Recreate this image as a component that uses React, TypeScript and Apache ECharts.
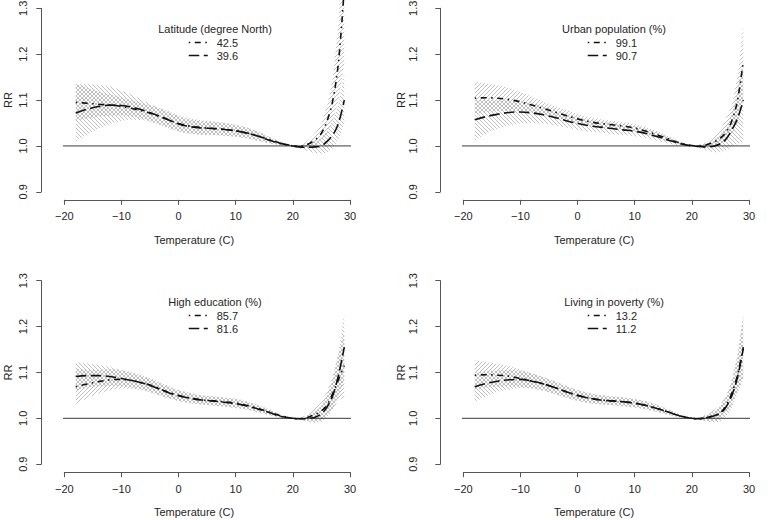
import React, { useEffect, useRef } from 'react';
import * as echarts from 'echarts';

// ---------------- data ----------------
const TEMPS = [-18, -16, -14, -12, -10, -8, -6, -4, -2, 0, 2, 4, 6, 8, 10, 12, 14, 16, 18, 20, 21, 22, 23, 24, 25, 26, 27, 28, 29];
const X_MIN = -20;
const X_MAX = 30;
const X_STEP = 10;
const Y_MIN = 0.9;
const Y_MAX = 1.3;
const Y_STEP = 0.1;
const REF_X = [-24, 35.4];
const REF_Y = 1.0;
const X_TITLE = 'Temperature (C)';
const Y_TITLE = 'RR';

// Panel 1: Latitude
const LAT_TITLE = 'Latitude (degree North)';
const LAT_NAMES = ['42.5', '39.6'];
const LAT_FIT_A = [1.095, 1.093, 1.091, 1.089, 1.086, 1.081, 1.075, 1.067, 1.058, 1.049, 1.043, 1.040, 1.038, 1.036, 1.033, 1.028, 1.021, 1.013, 1.005, 1.000, 0.999, 1.001, 1.006, 1.014, 1.028, 1.055, 1.100, 1.185, 1.345];
const LAT_FIT_B = [1.072, 1.080, 1.086, 1.089, 1.088, 1.084, 1.077, 1.068, 1.058, 1.048, 1.042, 1.039, 1.038, 1.036, 1.033, 1.028, 1.021, 1.012, 1.005, 1.000, 0.998, 0.997, 0.997, 0.998, 1.000, 1.010, 1.024, 1.050, 1.100];
const LAT_LOW_A = [1.055, 1.060, 1.064, 1.066, 1.067, 1.064, 1.058, 1.049, 1.039, 1.031, 1.026, 1.024, 1.023, 1.022, 1.020, 1.016, 1.011, 1.006, 1.002, 0.999, 0.997, 0.995, 0.996, 1.000, 1.008, 1.025, 1.055, 1.100, 1.180];
const LAT_UPP_A = [1.135, 1.126, 1.118, 1.112, 1.106, 1.099, 1.092, 1.086, 1.077, 1.067, 1.060, 1.056, 1.054, 1.051, 1.046, 1.040, 1.031, 1.020, 1.008, 1.001, 1.001, 1.006, 1.016, 1.030, 1.050, 1.088, 1.150, 1.270, 1.520];
const LAT_LOW_B = [1.010, 1.025, 1.038, 1.048, 1.055, 1.057, 1.056, 1.050, 1.041, 1.032, 1.027, 1.025, 1.024, 1.022, 1.020, 1.016, 1.011, 1.005, 1.001, 0.999, 0.995, 0.991, 0.987, 0.984, 0.983, 0.986, 0.995, 1.015, 1.050];
const LAT_UPP_B = [1.135, 1.135, 1.133, 1.130, 1.121, 1.111, 1.098, 1.086, 1.075, 1.064, 1.057, 1.053, 1.052, 1.050, 1.046, 1.040, 1.031, 1.019, 1.009, 1.001, 1.001, 1.003, 1.007, 1.012, 1.018, 1.034, 1.056, 1.092, 1.160];

// Panel 2: Urban population
const URB_TITLE = 'Urban population (%)';
const URB_NAMES = ['99.1', '90.7'];
const URB_FIT_A = [1.104, 1.105, 1.104, 1.101, 1.096, 1.089, 1.082, 1.074, 1.066, 1.059, 1.053, 1.049, 1.046, 1.043, 1.039, 1.032, 1.024, 1.015, 1.006, 1.001, 1.000, 1.001, 1.004, 1.009, 1.017, 1.030, 1.055, 1.100, 1.185];
const URB_FIT_B = [1.057, 1.064, 1.069, 1.073, 1.074, 1.072, 1.068, 1.062, 1.055, 1.049, 1.044, 1.041, 1.038, 1.035, 1.032, 1.027, 1.020, 1.012, 1.005, 1.000, 0.999, 0.998, 0.998, 1.000, 1.005, 1.015, 1.035, 1.060, 1.100];
const URB_LOW_A = [1.070, 1.074, 1.076, 1.077, 1.076, 1.073, 1.068, 1.062, 1.055, 1.048, 1.043, 1.040, 1.037, 1.034, 1.030, 1.024, 1.017, 1.010, 1.003, 0.999, 0.998, 0.997, 0.997, 0.999, 1.003, 1.010, 1.025, 1.050, 1.100];
const URB_UPP_A = [1.140, 1.136, 1.132, 1.126, 1.118, 1.107, 1.097, 1.087, 1.078, 1.070, 1.063, 1.058, 1.055, 1.052, 1.048, 1.041, 1.032, 1.021, 1.009, 1.002, 1.002, 1.005, 1.011, 1.020, 1.035, 1.060, 1.090, 1.150, 1.265];
const URB_LOW_B = [1.012, 1.027, 1.038, 1.045, 1.049, 1.050, 1.049, 1.045, 1.040, 1.035, 1.031, 1.029, 1.026, 1.024, 1.021, 1.017, 1.011, 1.005, 1.001, 0.999, 0.996, 0.992, 0.988, 0.986, 0.986, 0.990, 0.998, 1.005, 1.010];
const URB_UPP_B = [1.100, 1.100, 1.099, 1.099, 1.098, 1.094, 1.087, 1.079, 1.070, 1.063, 1.057, 1.053, 1.050, 1.047, 1.043, 1.037, 1.029, 1.019, 1.009, 1.001, 1.002, 1.004, 1.008, 1.014, 1.024, 1.040, 1.070, 1.120, 1.190];

// Panel 3: High education
const EDU_TITLE = 'High education (%)';
const EDU_NAMES = ['85.7', '81.6'];
const EDU_FIT_A = [1.069, 1.075, 1.080, 1.084, 1.085, 1.082, 1.076, 1.068, 1.058, 1.050, 1.044, 1.040, 1.038, 1.036, 1.033, 1.028, 1.021, 1.013, 1.005, 1.000, 0.999, 1.000, 1.004, 1.009, 1.016, 1.030, 1.055, 1.085, 1.115];
const EDU_FIT_B = [1.091, 1.093, 1.093, 1.091, 1.087, 1.082, 1.076, 1.067, 1.057, 1.049, 1.044, 1.040, 1.038, 1.035, 1.032, 1.027, 1.020, 1.012, 1.004, 1.000, 0.999, 0.999, 1.000, 1.003, 1.010, 1.025, 1.050, 1.095, 1.155];
const EDU_LOW_A = [1.032, 1.044, 1.054, 1.061, 1.065, 1.064, 1.060, 1.053, 1.045, 1.038, 1.033, 1.030, 1.028, 1.026, 1.023, 1.019, 1.013, 1.007, 1.002, 0.999, 0.997, 0.995, 0.993, 0.993, 0.996, 1.005, 1.020, 1.040, 1.045];
const EDU_UPP_A = [1.107, 1.106, 1.106, 1.107, 1.106, 1.100, 1.092, 1.083, 1.072, 1.062, 1.055, 1.050, 1.048, 1.046, 1.043, 1.037, 1.029, 1.019, 1.008, 1.001, 1.001, 1.005, 1.014, 1.025, 1.037, 1.060, 1.095, 1.140, 1.190];
const EDU_LOW_B = [1.060, 1.067, 1.070, 1.071, 1.070, 1.067, 1.061, 1.053, 1.044, 1.037, 1.033, 1.030, 1.028, 1.025, 1.022, 1.018, 1.012, 1.006, 1.001, 0.999, 0.997, 0.994, 0.991, 0.990, 0.992, 1.002, 1.020, 1.050, 1.085];
const EDU_UPP_B = [1.122, 1.120, 1.117, 1.112, 1.105, 1.098, 1.090, 1.081, 1.070, 1.061, 1.055, 1.050, 1.048, 1.045, 1.042, 1.036, 1.028, 1.018, 1.007, 1.001, 1.001, 1.004, 1.009, 1.016, 1.028, 1.050, 1.085, 1.145, 1.230];

// Panel 4: Living in poverty
const POV_TITLE = 'Living in poverty (%)';
const POV_NAMES = ['13.2', '11.2'];
const POV_FIT_A = [1.094, 1.095, 1.094, 1.092, 1.087, 1.081, 1.075, 1.067, 1.058, 1.050, 1.044, 1.040, 1.038, 1.036, 1.033, 1.028, 1.021, 1.013, 1.005, 1.000, 0.999, 1.000, 1.003, 1.007, 1.012, 1.028, 1.055, 1.095, 1.155];
const POV_FIT_B = [1.069, 1.076, 1.081, 1.084, 1.085, 1.081, 1.075, 1.067, 1.058, 1.050, 1.044, 1.040, 1.038, 1.036, 1.033, 1.028, 1.021, 1.013, 1.005, 1.000, 0.999, 1.000, 1.002, 1.006, 1.011, 1.025, 1.050, 1.090, 1.152];
const POV_LOW_A = [1.062, 1.067, 1.069, 1.070, 1.069, 1.065, 1.060, 1.053, 1.045, 1.038, 1.033, 1.030, 1.029, 1.027, 1.024, 1.019, 1.013, 1.007, 1.002, 0.999, 0.997, 0.995, 0.993, 0.994, 0.998, 1.010, 1.030, 1.060, 1.090];
const POV_UPP_A = [1.126, 1.123, 1.119, 1.114, 1.106, 1.098, 1.090, 1.081, 1.071, 1.062, 1.055, 1.051, 1.048, 1.046, 1.042, 1.037, 1.029, 1.019, 1.008, 1.001, 1.001, 1.005, 1.012, 1.020, 1.030, 1.050, 1.085, 1.140, 1.230];
const POV_LOW_B = [1.036, 1.048, 1.058, 1.063, 1.066, 1.065, 1.060, 1.053, 1.045, 1.038, 1.033, 1.030, 1.028, 1.026, 1.023, 1.019, 1.013, 1.007, 1.002, 0.999, 0.997, 0.994, 0.992, 0.991, 0.993, 1.003, 1.022, 1.055, 1.085];
const POV_UPP_B = [1.100, 1.102, 1.104, 1.105, 1.104, 1.098, 1.090, 1.081, 1.071, 1.062, 1.055, 1.050, 1.048, 1.046, 1.042, 1.037, 1.029, 1.019, 1.008, 1.001, 1.001, 1.004, 1.010, 1.017, 1.028, 1.048, 1.080, 1.135, 1.225];

// ---------------- styling / layout ----------------
const FONT = "'Liberation Sans', Arial, Helvetica, sans-serif";
const TEXT_COLOR = '#262626';
const AXIS_COLOR = '#555555';
const DOTDASH = [1.5, 4.5, 6, 4.5];
const LONGDASH = [10.5, 4.5];

const PANELS = [
  { title: LAT_TITLE, names: LAT_NAMES, fits: [LAT_FIT_A, LAT_FIT_B], lows: [LAT_LOW_A, LAT_LOW_B], upps: [LAT_UPP_A, LAT_UPP_B] },
  { title: URB_TITLE, names: URB_NAMES, fits: [URB_FIT_A, URB_FIT_B], lows: [URB_LOW_A, URB_LOW_B], upps: [URB_UPP_A, URB_UPP_B] },
  { title: EDU_TITLE, names: EDU_NAMES, fits: [EDU_FIT_A, EDU_FIT_B], lows: [EDU_LOW_A, EDU_LOW_B], upps: [EDU_UPP_A, EDU_UPP_B] },
  { title: POV_TITLE, names: POV_NAMES, fits: [POV_FIT_A, POV_FIT_B], lows: [POV_LOW_A, POV_LOW_B], upps: [POV_UPP_A, POV_UPP_B] },
];

const LAYOUT = [
  { gl: 64.3, gt: 8.3, lm: 13, ng: 28, legL: 188, legT: 37, tX: 215, tY: 29, xnX: 194, xnY: 240 },
  { gl: 463.3, gt: 8.3, lm: 22, ng: 33, legL: 587, legT: 37, tX: 614, tY: 29, xnX: 594, xnY: 240 },
  { gl: 64.3, gt: 280.7, lm: 13, ng: 28, legL: 188, legT: 310, tX: 215, tY: 302.3, xnX: 194, xnY: 512 },
  { gl: 463.3, gt: 280.7, lm: 22, ng: 33, legL: 587, legT: 310, tX: 614, tY: 302.3, xnX: 594, xnY: 512 },
];
const GRID_W = 285.7;
const GRID_H = 183.5;

function makeHatch(forward: boolean) {
  const s = 4;
  const c = document.createElement('canvas');
  c.width = s;
  c.height = s;
  const ctx = c.getContext('2d')!;
  ctx.strokeStyle = '#b0b0b0';
  ctx.lineWidth = 0.8;
  ctx.beginPath();
  if (forward) {
    ctx.moveTo(-1, s + 1); ctx.lineTo(s + 1, -1);
    ctx.moveTo(-1, 1); ctx.lineTo(1, -1);
    ctx.moveTo(s - 1, s + 1); ctx.lineTo(s + 1, s - 1);
  } else {
    ctx.moveTo(-1, -1); ctx.lineTo(s + 1, s + 1);
    ctx.moveTo(s - 1, -1); ctx.lineTo(s + 1, 1);
    ctx.moveTo(-1, s - 1); ctx.lineTo(1, s + 1);
  }
  ctx.stroke();
  return { image: c, repeat: 'repeat', imageWidth: s, imageHeight: s } as any;
}

function buildOption() {
  const hatches = [makeHatch(true), makeHatch(false)];
  const dashes = [DOTDASH, LONGDASH];
  const grid: any[] = [];
  const xAxis: any[] = [];
  const yAxis: any[] = [];
  const legend: any[] = [];
  const series: any[] = [];
  const graphic: any[] = [];

  PANELS.forEach((p, i) => {
    const L = LAYOUT[i];
    grid.push({ left: L.gl, top: L.gt, width: GRID_W, height: GRID_H, outerBoundsMode: 'none', containLabel: false });
    xAxis.push({
      type: 'value', gridIndex: i, min: X_MIN, max: X_MAX, interval: X_STEP, offset: 8,
      axisLine: { show: true, onZero: false, lineStyle: { color: AXIS_COLOR, width: 1 } },
      axisTick: { show: true, length: 5, lineStyle: { color: AXIS_COLOR } },
      axisLabel: { fontSize: 11, color: TEXT_COLOR, fontFamily: FONT, margin: 11, formatter: (v: number) => String(v).replace('-', '\u2212') },
      splitLine: { show: false },
    });
    yAxis.push({
      type: 'value', gridIndex: i, min: Y_MIN, max: Y_MAX, interval: Y_STEP, offset: 23,
      name: Y_TITLE, nameLocation: 'middle', nameGap: L.ng,
      nameTextStyle: { fontSize: 11, color: TEXT_COLOR, fontFamily: FONT },
      axisLine: { show: true, onZero: false, lineStyle: { color: AXIS_COLOR, width: 1 } },
      axisTick: { show: true, length: 5, lineStyle: { color: AXIS_COLOR } },
      axisLabel: { fontSize: 11, color: TEXT_COLOR, fontFamily: FONT, rotate: 90, margin: L.lm, formatter: (v: number) => v.toFixed(1) },
      splitLine: { show: false },
    });
    legend.push({
      data: p.names, orient: 'vertical', left: L.legL, top: L.legT, padding: 0,
      itemWidth: 19, itemHeight: 13, itemGap: 2, selectedMode: false,
      lineStyle: { width: 1.5 },
      itemStyle: { opacity: 0, borderWidth: 0, color: 'rgba(0,0,0,0)' },
      textStyle: { fontSize: 11, color: TEXT_COLOR, fontFamily: FONT, padding: [0, 0, 0, 4] },
    });
    graphic.push({
      type: 'text', x: L.tX, y: L.tY, silent: true,
      style: { text: p.title, fontSize: 11, fill: TEXT_COLOR, fontFamily: FONT, align: 'center', verticalAlign: 'middle' },
    });
    graphic.push({
      type: 'text', x: L.xnX, y: L.xnY, silent: true,
      style: { text: X_TITLE, fontSize: 11, fill: TEXT_COLOR, fontFamily: FONT, align: 'center', verticalAlign: 'middle' },
    });

    // confidence bands (hatched)
    [0, 1].forEach((k) => {
      const low = p.lows[k];
      const upp = p.upps[k];
      series.push({
        type: 'custom', xAxisIndex: i, yAxisIndex: i, z: 1, silent: true, clip: false,
        data: TEMPS.map((t, j) => [t, low[j], upp[j]]),
        encode: { x: 0, y: [1, 2] },
        renderItem: (params: any, api: any) => {
          if (params.dataIndex !== 0) return null;
          const pts: number[][] = [];
          for (let j = 0; j < TEMPS.length; j++) pts.push(api.coord([TEMPS[j], low[j]]));
          for (let j = TEMPS.length - 1; j >= 0; j--) pts.push(api.coord([TEMPS[j], upp[j]]));
          return { type: 'polygon', shape: { points: pts }, style: { fill: hatches[k], stroke: null } };
        },
      });
    });

    // reference line RR = 1
    series.push({
      type: 'line', xAxisIndex: i, yAxisIndex: i, z: 2, silent: true, clip: false,
      symbol: 'none', data: REF_X.map((x) => [x, REF_Y]),
      lineStyle: { color: '#3a3a3a', width: 1 },
    });

    // fitted curves
    [0, 1].forEach((k) => {
      series.push({
        type: 'line', name: p.names[k], xAxisIndex: i, yAxisIndex: i, z: 3, silent: true, clip: false,
        symbol: 'none', smooth: 0.35,
        data: TEMPS.map((t, j) => [t, p.fits[k][j]]),
        lineStyle: { color: '#111111', width: 1.6, type: dashes[k] },
        itemStyle: { color: '#111111' },
      });
    });
  });

  return {
    animation: false,
    backgroundColor: '#ffffff',
    textStyle: { fontFamily: FONT },
    grid, xAxis, yAxis, legend, series, graphic,
  };
}

export default function App() {
  const ref = useRef<HTMLDivElement>(null);
  useEffect(() => {
    const chart = echarts.init(ref.current!, null, { renderer: 'svg' });
    chart.setOption(buildOption() as any);
    return () => chart.dispose();
  }, []);
  return (
    <div
      ref={ref}
      style={{ position: 'fixed', left: 0, top: 0, width: 779, height: 520, background: '#fff' }}
    />
  );
}
